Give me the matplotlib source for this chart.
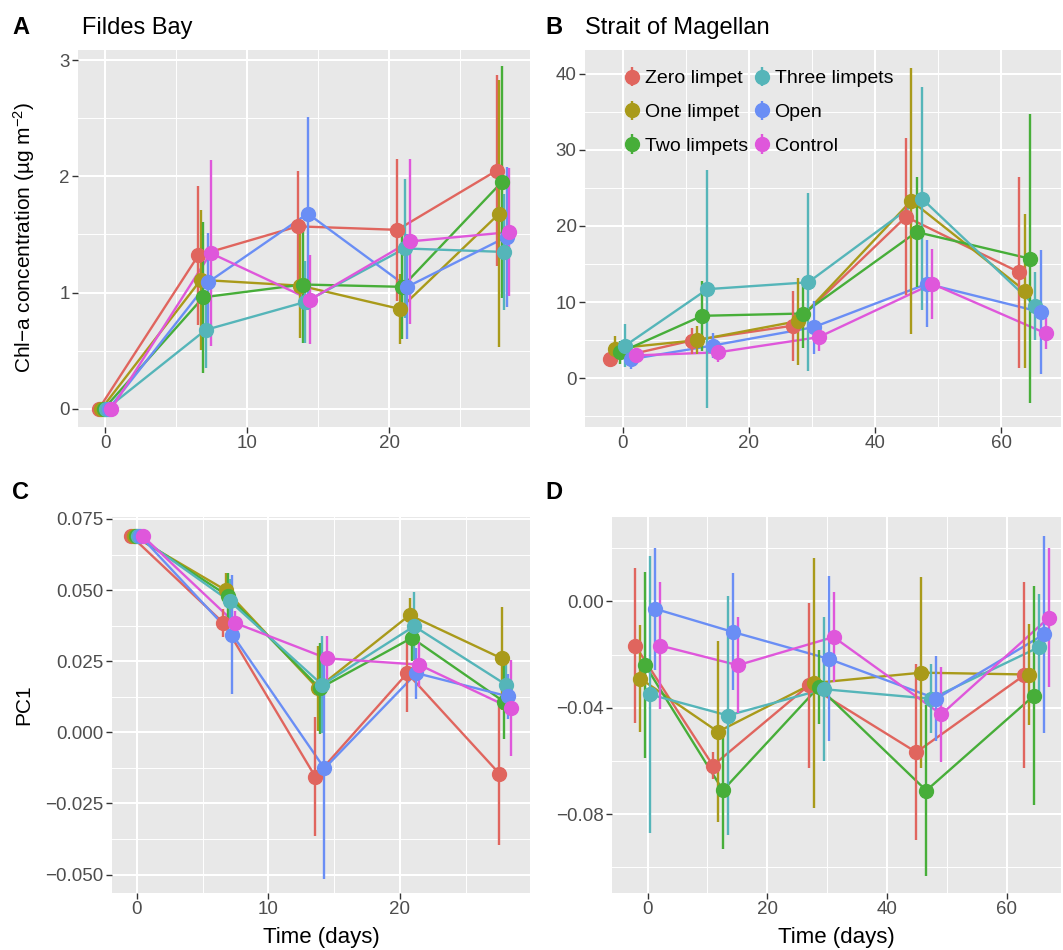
import numpy as np
import matplotlib
matplotlib.use("Agg")
import matplotlib.pyplot as plt
from matplotlib.ticker import MultipleLocator, FixedLocator, FuncFormatter

plt.rcParams['font.family'] = ['Liberation Sans', 'DejaVu Sans']
plt.rcParams['mathtext.fontset'] = 'custom'
plt.rcParams['mathtext.rm'] = 'Liberation Sans'
plt.rcParams['mathtext.it'] = 'Liberation Sans:italic'

groups = ['Zero limpet', 'One limpet', 'Two limpets', 'Three limpets', 'Open', 'Control']
colors = ['#E0655E', '#A99A1A', '#47AE39', '#55B5B9', '#6A8EF5', '#DF57DB']

days_fildes = [0, 7, 14, 21, 28]
days_magellan = [0, 13, 29, 47, 65]

# panel A: chl-a, Fildes Bay (rows follow groups)
chl_fildes = [
    [0, 1.32, 1.57, 1.54, 2.05],
    [0, 1.11, 1.06, 0.86, 1.68],
    [0, 0.96, 1.07, 1.05, 1.95],
    [0, 0.68, 0.92, 1.38, 1.35],
    [0, 1.09, 1.68, 1.05, 1.48],
    [0, 1.34, 0.94, 1.44, 1.52],
]
chl_fildes_err = [
    [0.02, 0.60, 0.48, 0.61, 0.82],
    [0.02, 0.60, 0.45, 0.30, 1.15],
    [0.02, 0.65, 0.50, 0.45, 1.00],
    [0.02, 0.33, 0.35, 0.60, 0.50],
    [0.02, 0.42, 0.83, 0.45, 0.60],
    [0.02, 0.80, 0.38, 0.71, 0.55],
]

# panel B: chl-a, Strait of Magellan
chl_magellan = [
    [2.5, 4.95, 6.9, 21.2, 13.9],
    [3.9, 5.0, 7.5, 23.3, 11.5],
    [3.4, 8.2, 8.5, 19.2, 15.7],
    [4.3, 11.7, 12.6, 23.6, 9.5],
    [2.5, 4.3, 6.7, 12.4, 8.7],
    [3.0, 3.4, 5.4, 12.4, 5.9],
]
chl_magellan_err = [
    [1.0, 1.7, 4.6, 10.3, 12.5],
    [1.6, 1.8, 5.7, 17.5, 10.1],
    [1.5, 4.6, 4.5, 7.2, 19.0],
    [2.8, 15.6, 11.7, 14.7, 4.5],
    [1.3, 1.6, 3.5, 5.7, 8.1],
    [1.0, 1.3, 1.8, 4.6, 2.0],
]

# panel C: PC1, Fildes Bay
pc1_fildes = [
    [0.069, 0.0385, -0.0156, 0.0208, -0.0145],
    [0.069, 0.0500, 0.0155, 0.0412, 0.0260],
    [0.069, 0.0480, 0.0155, 0.0332, 0.0108],
    [0.069, 0.0460, 0.0167, 0.0373, 0.0167],
    [0.069, 0.0343, -0.0127, 0.0208, 0.0126],
    [0.069, 0.0385, 0.0260, 0.0238, 0.0085],
]
pc1_fildes_err = [
    [0.0005, 0.005, 0.021, 0.0135, 0.025],
    [0.0005, 0.006, 0.015, 0.006, 0.018],
    [0.0005, 0.008, 0.016, 0.008, 0.013],
    [0.0005, 0.008, 0.017, 0.012, 0.008],
    [0.0005, 0.021, 0.039, 0.009, 0.008],
    [0.0005, 0.004, 0.008, 0.008, 0.017],
]

# panel D: PC1, Strait of Magellan
pc1_magellan = [
    [-0.0166, -0.0617, -0.0316, -0.0567, -0.0278],
    [-0.0290, -0.0490, -0.0307, -0.0268, -0.0275],
    [-0.0240, -0.0710, -0.0322, -0.0711, -0.0354],
    [-0.0350, -0.0429, -0.0330, -0.0366, -0.0172],
    [-0.0028, -0.0115, -0.0216, -0.0366, -0.0124],
    [-0.0166, -0.0240, -0.0134, -0.0425, -0.0061],
]
pc1_magellan_err = [
    [0.029, 0.005, 0.031, 0.033, 0.035],
    [0.020, 0.034, 0.047, 0.036, 0.019],
    [0.035, 0.022, 0.014, 0.032, 0.041],
    [0.052, 0.045, 0.027, 0.013, 0.020],
    [0.023, 0.022, 0.031, 0.016, 0.037],
    [0.024, 0.018, 0.017, 0.018, 0.026],
]

W, H = 1063, 950
fig = plt.figure(figsize=(W / 100, H / 100), dpi=100)


def panel(x0, y0, x1, y1):
    ax = fig.add_axes([x0 / W, 1 - y1 / H, (x1 - x0) / W, (y1 - y0) / H])
    ax.set_facecolor('#E8E8E8')
    for s in ax.spines.values():
        s.set_visible(False)
    ax.set_axisbelow(True)
    ax.grid(which='major', color='white', lw=1.5)
    ax.grid(which='minor', color='white', lw=0.7)
    ax.tick_params(which='major', direction='out', length=4, width=1, color='#333333',
                   labelcolor='#4D4D4D', labelsize=13.5, pad=2)
    ax.tick_params(which='minor', length=0)
    return ax


def draw(ax, times, means, errs, w):
    offs = (np.arange(len(groups)) - 2.5) * w / len(groups)
    for i in range(len(groups)):
        ax.plot(np.array(times) + offs[i], means[i], color=colors[i], lw=1.7, zorder=2)
    hs = []
    for i in range(len(groups)):
        h = ax.errorbar(np.array(times) + offs[i], means[i], yerr=errs[i], fmt='o',
                        color=colors[i], ms=10, elinewidth=1.7, capsize=0, zorder=3,
                        label=groups[i])
        hs.append(h)
    return hs


minus = lambda fmt: FuncFormatter(lambda v, p: (fmt % v).replace('-', '\u2212'))

# A
axA = panel(78, 50, 530, 427)
draw(axA, days_fildes, chl_fildes, chl_fildes_err, 1.05)
axA.set_xlim(-1.9, 29.9)
axA.set_ylim(-0.155, 3.086)
axA.xaxis.set_major_locator(MultipleLocator(10))
axA.xaxis.set_minor_locator(MultipleLocator(5))
axA.yaxis.set_major_locator(MultipleLocator(1))
axA.yaxis.set_minor_locator(MultipleLocator(0.5))

# B
axB = panel(585, 50, 1061, 427)
hs = draw(axB, days_magellan, chl_magellan, chl_magellan_err, 5)
axB.set_xlim(-6.0, 69.5)
axB.set_ylim(-6.4, 43.1)
axB.xaxis.set_major_locator(MultipleLocator(20))
axB.xaxis.set_minor_locator(MultipleLocator(10))
axB.yaxis.set_major_locator(MultipleLocator(10))
axB.yaxis.set_minor_locator(MultipleLocator(5))
axB.legend(handles=hs, loc='upper left', bbox_to_anchor=(0.063, 0.968), ncol=2,
           frameon=False, fontsize=14, handlelength=1.0, handletextpad=0.15,
           columnspacing=0.2, labelspacing=0.83, borderaxespad=0)

# C
axC = panel(112, 517, 530, 893)
draw(axC, days_fildes, pc1_fildes, pc1_fildes_err, 1.05)
axC.set_xlim(-1.9, 29.9)
axC.set_ylim(-0.0565, 0.0757)
axC.xaxis.set_major_locator(MultipleLocator(10))
axC.xaxis.set_minor_locator(MultipleLocator(5))
axC.yaxis.set_major_locator(FixedLocator([-0.05, -0.025, 0, 0.025, 0.05, 0.075]))
axC.yaxis.set_minor_locator(FixedLocator([-0.0375, -0.0125, 0.0125, 0.0375, 0.0625]))
axC.yaxis.set_major_formatter(minus('%.3f'))

# D
axD = panel(612, 517, 1061, 893)
draw(axD, days_magellan, pc1_magellan, pc1_magellan_err, 5)
axD.set_xlim(-5.96, 69.1)
axD.set_ylim(-0.1096, 0.0317)
axD.xaxis.set_major_locator(MultipleLocator(20))
axD.xaxis.set_minor_locator(MultipleLocator(10))
axD.yaxis.set_major_locator(FixedLocator([-0.08, -0.04, 0]))
axD.yaxis.set_minor_locator(FixedLocator([-0.10, -0.06, -0.02, 0.02]))
axD.yaxis.set_major_formatter(minus('%.2f'))

# titles and labels
fig.text(12 / W, 1 - 28 / H, 'A', fontsize=17, fontweight='bold', va='center')
fig.text(82 / W, 1 - 28 / H, 'Fildes Bay', fontsize=17, va='center')
fig.text(545 / W, 1 - 28 / H, 'B', fontsize=17, fontweight='bold', va='center')
fig.text(585 / W, 1 - 28 / H, 'Strait of Magellan', fontsize=17, va='center')
fig.text(12 / W, 1 - 492 / H, 'C', fontsize=17, fontweight='bold', va='center')
fig.text(545 / W, 1 - 492 / H, 'D', fontsize=17, fontweight='bold', va='center')

fig.text(24 / W, 1 - 238 / H, 'Chl\u2212a concentration (\u00b5g m$^{-2}$)', fontsize=15,
         rotation=90, ha='center', va='center')
fig.text(24 / W, 1 - 705 / H, 'PC1', fontsize=15, rotation=90, ha='center', va='center')
fig.text(321 / W, 1 - 938 / H, 'Time (days)', fontsize=16, ha='center', va='center')
fig.text(836 / W, 1 - 938 / H, 'Time (days)', fontsize=16, ha='center', va='center')

fig.savefig('out.png', dpi=100)
